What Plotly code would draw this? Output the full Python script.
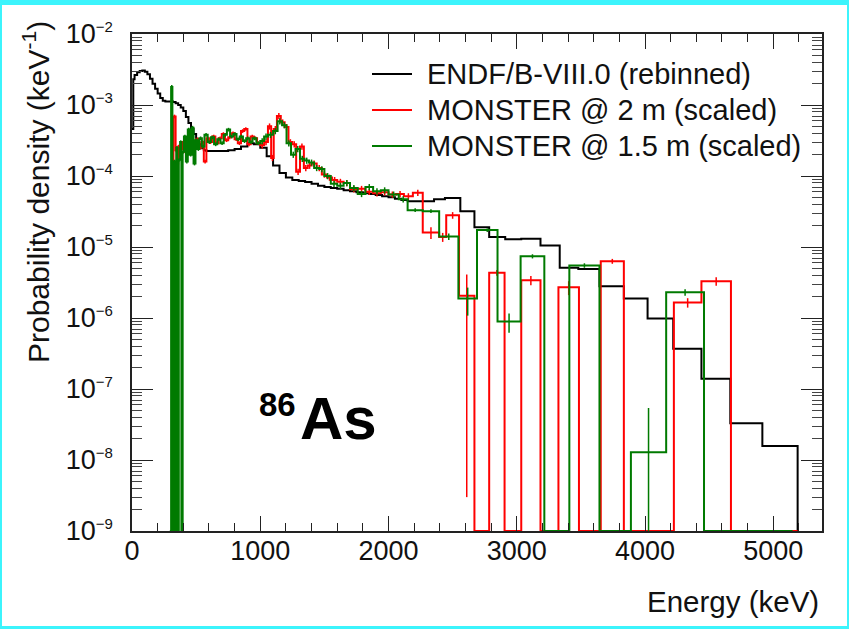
import plotly.graph_objects as go

# ---------------------------------------------------------------------------
# Beta-delayed neutron spectrum of 86As: energy in keV, density in keV^-1
# ---------------------------------------------------------------------------

# ENDF/B-VIII.0 evaluation, rebinned
endf_edges = [0, 10, 20, 40, 60, 80, 100, 120, 140, 160, 180, 200, 220, 240, 260, 280,
              300, 320, 340, 360, 380, 400, 420, 440, 460, 480, 500, 520, 540, 560, 580,
              600, 650, 700, 750, 800, 850, 900, 950, 1000, 1050, 1100, 1150, 1200, 1250,
              1300, 1350, 1400, 1450, 1500, 1550, 1600, 1650, 1700, 1750, 1800, 1850, 1900,
              1950, 2000, 2050, 2100, 2150, 2200, 2355, 2440, 2560, 2670, 2785, 2910, 3035,
              3185, 3335, 3480, 3645, 3835, 4020, 4220, 4440, 4665, 4915, 5190, 5200]
endf_vals = [4.6e-4, 2.3e-3, 2.65e-3, 2.9e-3, 3.02e-3, 3.05e-3, 2.95e-3, 2.7e-3, 2.35e-3,
             2.0e-3, 1.7e-3, 1.45e-3, 1.25e-3, 1.15e-3, 1.12e-3, 1.12e-3, 1.12e-3, 1.1e-3,
             1.06e-3, 1.0e-3, 9.2e-4, 8.2e-4, 6.8e-4, 5.6e-4, 4.6e-4, 3.9e-4, 3.3e-4, 2.8e-4,
             2.45e-4, 2.3e-4, 2.25e-4,
             2.25e-4, 2.25e-4, 2.25e-4, 2.3e-4, 2.4e-4, 2.6e-4, 2.9e-4, 2.8e-4, 2.5e-4,
             1.9e-4, 1.4e-4, 1.1e-4, 9.5e-5, 8.8e-5, 8.5e-5, 8.2e-5, 7.8e-5, 7.3e-5, 7.0e-5,
             6.8e-5, 6.6e-5, 6.3e-5, 6.1e-5, 5.9e-5, 5.7e-5, 5.6e-5, 5.4e-5, 5.2e-5, 5.0e-5,
             4.8e-5, 4.6e-5, 4.4e-5,
             4.4e-5, 4.7e-5, 4.9e-5, 3.2e-5, 1.9e-5, 1.38e-5, 1.29e-5, 1.31e-5, 1.05e-5,
             5.1e-6, 4.9e-6, 2.8e-6, 1.88e-6, 9.8e-7, 3.7e-7, 1.39e-7, 3.3e-8, 1.58e-8, 0]

# MONSTER, detectors at 2 m (scaled)
m2_edges = [300, 323, 340, 350, 360, 370, 380, 395, 410, 425, 440, 455, 470, 485, 500, 520,
            540, 560, 580, 600, 625, 650, 675, 700, 725, 750, 775, 800, 825, 850, 875, 900,
            925, 950, 975, 1000, 1030, 1060, 1085, 1105, 1130, 1160, 1190, 1220, 1250, 1280,
            1310, 1340, 1370, 1400, 1440, 1480, 1520, 1560, 1600, 1650, 1700, 1760, 1820,
            1880, 1940, 2000, 2060, 2120, 2190, 2267, 2395, 2450, 2550, 2670, 2785, 2905,
            3035, 3185, 3325, 3485, 3655, 3835, 4225, 4440, 4670, 5190]
m2_vals = [0, 6.9e-4, 2.3e-4, 1.5e-4, 2.6e-4, 1.9e-4, 2.4e-4, 3.0e-4, 2.2e-4, 3.4e-4,
           2.6e-4, 3.2e-4, 2.4e-4, 2.9e-4, 3.3e-4, 2.5e-4, 3.0e-4, 1.6e-4, 3.4e-4, 3.0e-4,
           3.6e-4, 2.9e-4, 3.4e-4, 3.9e-4, 3.2e-4, 3.5e-4, 4.0e-4, 3.3e-4, 2.9e-4, 4.3e-4,
           4.6e-4, 2.8e-4, 3.6e-4, 3.4e-4, 2.9e-4, 2.7e-4, 3.0e-4, 5.0e-4, 1.8e-4, 4.6e-4,
           7.0e-4, 5.7e-4, 4.9e-4, 3.0e-4, 2.8e-4, 1.15e-4, 2.6e-4, 1.3e-4, 1.4e-4, 1.5e-4,
           1.3e-4, 1.05e-4, 9.5e-5, 8.8e-5, 8.3e-5, 8.0e-5, 6.5e-5, 6.6e-5, 6.0e-5, 5.7e-5,
           5.9e-5, 5.5e-5, 5.6e-5, 5.2e-5, 5.8e-5, 1.6e-5, 1.38e-5, 2.8e-5, 2.05e-6, 0,
           4.35e-6, 0, 3.4e-6, 0, 2.7e-6, 0, 6.3e-6, 0, 1.65e-6, 3.3e-6, 0]
# uncertainties of the wide high-energy bins (bin lower edge -> error)
m2_errs_hi = {2267: 3.0e-6, 2395: 2.0e-6, 2450: 3.0e-6, 2550: 2.047e-6, 2785: 4.0e-7,
              3035: 5.0e-7, 3325: 6.0e-7, 3655: 5.0e-7, 4225: 2.5e-7, 4440: 4.5e-7}

# MONSTER, detectors at 1.5 m (scaled)
m15_edges = [295, 305, 315, 328, 336, 345, 355, 365, 375, 385, 395, 405, 420, 435, 450, 465,
             480, 495, 510, 525, 545, 565, 590, 615, 640, 665, 690, 715, 740, 765, 790, 815,
             840, 865, 890, 915, 940, 970, 1000, 1030, 1060, 1100, 1135, 1170, 1205, 1240,
             1275, 1310, 1345, 1380, 1420, 1460, 1500, 1550, 1600, 1650, 1700, 1760, 1820,
             1880, 1940, 2000, 2080, 2149, 2267, 2395, 2545, 2690, 2850, 3030, 3215, 3410,
             3645, 3890, 4165, 4460, 5150]
m15_vals = [0, 1.8e-3, 0, 1.6e-4, 0, 2.5e-4, 0, 1.7e-4, 3.0e-4, 0, 2.2e-4, 3.6e-4, 1.6e-4,
            4.5e-4, 2.0e-4, 4.8e-4, 1.5e-4, 3.2e-4, 2.4e-4, 3.4e-4, 2.6e-4, 3.8e-4, 3.0e-4,
            3.5e-4, 2.8e-4, 3.3e-4, 2.9e-4, 3.8e-4, 4.5e-4, 3.6e-4, 3.9e-4, 3.3e-4, 3.6e-4,
            3.1e-4, 3.4e-4, 3.0e-4, 3.4e-4, 2.9e-4, 3.1e-4, 3.6e-4, 3.8e-4, 4.3e-4, 5.9e-4,
            5.2e-4, 2.9e-4, 2.0e-4, 2.4e-4, 1.75e-4, 1.65e-4, 1.55e-4, 1.3e-4, 1.25e-4,
            1.0e-4, 7.8e-5, 7.3e-5, 8.0e-5, 6.8e-5, 5.6e-5, 7.0e-5, 6.1e-5, 6.3e-5, 5.5e-5,
            4.7e-5, 3.3e-5, 3.2e-5, 1.4e-5, 1.88e-6, 1.73e-5, 8.9e-7, 7.4e-6, 0, 5.5e-6, 0,
            1.29e-8, 2.3e-6, 0]
m15_errs_hi = {2149: 2.0e-6, 2267: 2.0e-6, 2395: 1.5e-6, 2545: 8.0e-7, 2690: 1.0e-6,
               2850: 2.7e-7, 3030: 5.0e-7, 3410: 4.0e-7, 3890: 4.1e-8, 4165: 2.5e-7}
REL_ERR_LOW = 0.06    # typical relative uncertainty of the narrow bins below 1 MeV
REL_ERR_MID = 0.10    # typical relative uncertainty of the narrow bins above 1 MeV

x_ticks = [0, 1000, 2000, 3000, 4000, 5000]
y_exponents = [-9, -8, -7, -6, -5, -4, -3, -2]

X_RANGE = [0, 5380]
Y_MIN = 1e-9

assert len(endf_edges) == len(endf_vals) + 1
assert len(m2_edges) == len(m2_vals) + 1
assert len(m15_edges) == len(m15_vals) + 1

RED = "#ff0000"
GREEN = "#007a00"
BLACK = "#000000"
CYAN = "#3cf4fc"
TXT = "#111111"
FONT = "Liberation Sans, Arial, sans-serif"

W, H = 849, 629
ML, MR, MT, MB = 132, 27, 34, 98
PW, PH = W - ML - MR, H - MT - MB


def xp(px):
    return (px - ML) / PW


def yp(py):
    return (H - MB - py) / PH


def outline(edges, vals):
    """Histogram outline; empty bins sit on the bottom of the log axis."""
    ys = [max(v, Y_MIN) for v in vals]
    return list(edges), ys + [ys[-1]]


def error_points(edges, vals, errs_hi):
    xs, ys, es = [], [], []
    for lo, hi, v in zip(edges[:-1], edges[1:], vals):
        if v <= 0:
            continue
        if lo in errs_hi:
            e = errs_hi[lo]
        elif lo >= 1000:
            e = REL_ERR_MID * v
        else:
            e = REL_ERR_LOW * v
        xs.append(0.5 * (lo + hi))
        ys.append(v)
        es.append(e)
    return xs, ys, es


fig = go.Figure()

series = [
    ("ENDF/B-VIII.0 (rebinned)", endf_edges, endf_vals, None, BLACK),
    ("MONSTER @ 2 m (scaled)", m2_edges, m2_vals, m2_errs_hi, RED),
    ("MONSTER @ 1.5 m (scaled)", m15_edges, m15_vals, m15_errs_hi, GREEN),
]

for name, edges, vals, errs, color in series:
    x, y = outline(edges, vals)
    fig.add_trace(go.Scatter(
        x=x, y=y, name=name, mode="lines", line_shape="hv",
        line=dict(color=color, width=2), hoverinfo="skip", showlegend=False,
    ))
    if errs is not None:
        ex, ey, ee = error_points(edges, vals, errs)
        fig.add_trace(go.Scatter(
            x=ex, y=ey, mode="markers", showlegend=False, hoverinfo="skip",
            marker=dict(size=2, color=color, opacity=0),
            error_y=dict(type="data", array=ee, visible=True, width=0,
                         thickness=1.5, color=color),
        ))

axis_common = dict(
    showline=True, linecolor="#222222", linewidth=1.5, mirror="ticks",
    ticks="inside", tickcolor="#222222", tickwidth=1,
    showgrid=False, zeroline=False,
    tickfont=dict(family=FONT, size=27, color=TXT),
)

fig.update_xaxes(
    range=X_RANGE, tickvals=x_ticks, ticktext=[str(v) for v in x_ticks], ticklen=15,
    ticklabelstandoff=-5,
    minor=dict(dtick=200, ticklen=8, ticks="inside", tickcolor="#222222"),
    **axis_common,
)
fig.update_yaxes(
    type="log", range=[-9, -2], ticklen=21,
    tickvals=[10.0 ** e for e in y_exponents],
    ticktext=["10<sup><span style='font-size:15px'>\u2212%d</span></sup>" % -e
              for e in y_exponents],
    ticklabelstandoff=12,
    minor=dict(dtick="D1", ticklen=10, ticks="inside", tickcolor="#444444"),
    **axis_common,
)

annotations = [
    dict(text="Probability density (keV<sup>-1</sup>)", x=xp(36), y=yp(19),
         xanchor="center", yanchor="top", textangle=-90,
         font=dict(family=FONT, size=30, color=TXT)),
    dict(text="Energy (keV)", x=xp(821), y=yp(601), xanchor="right", yanchor="middle",
         font=dict(family=FONT, size=29.5, color=TXT)),
    dict(text="<b>86</b>", x=xp(277), y=yp(404), xanchor="center", yanchor="middle",
         font=dict(family=FONT, size=33, color="#000000")),
    dict(text="<b>As</b>", x=xp(338), y=yp(418), xanchor="center", yanchor="middle",
         font=dict(family=FONT, size=60, color="#000000")),
]

# legend: line sample plus label for each series
shapes = []
legend_rows = [74, 110, 146]
for (name, _, _, _, color), row in zip(series, legend_rows):
    shapes.append(dict(type="line", xref="paper", yref="paper",
                       x0=xp(372), x1=xp(412), y0=yp(row), y1=yp(row),
                       line=dict(color=color, width=2)))
    annotations.append(dict(text=name, x=xp(425), y=yp(row), xanchor="left",
                            yanchor="middle",
                            font=dict(family=FONT, size=29, color=TXT)))

for a in annotations:
    a.update(xref="paper", yref="paper", showarrow=False)

# cyan frame around the whole canvas
frame = [(0, 0, W, 5), (0, H - 3, W, H), (0, 0, 2, H), (W - 2, 0, W, H)]
for a, b, c, d in frame:
    shapes.append(dict(type="rect", xref="paper", yref="paper",
                       x0=xp(a), x1=xp(c), y0=yp(d), y1=yp(b),
                       fillcolor=CYAN, line_width=0, layer="above"))

fig.update_layout(
    width=W, height=H, margin=dict(l=ML, r=MR, t=MT, b=MB),
    paper_bgcolor="white", plot_bgcolor="white",
    annotations=annotations, shapes=shapes, showlegend=False,
    font=dict(family=FONT),
)

fig.write_html("out.html")
